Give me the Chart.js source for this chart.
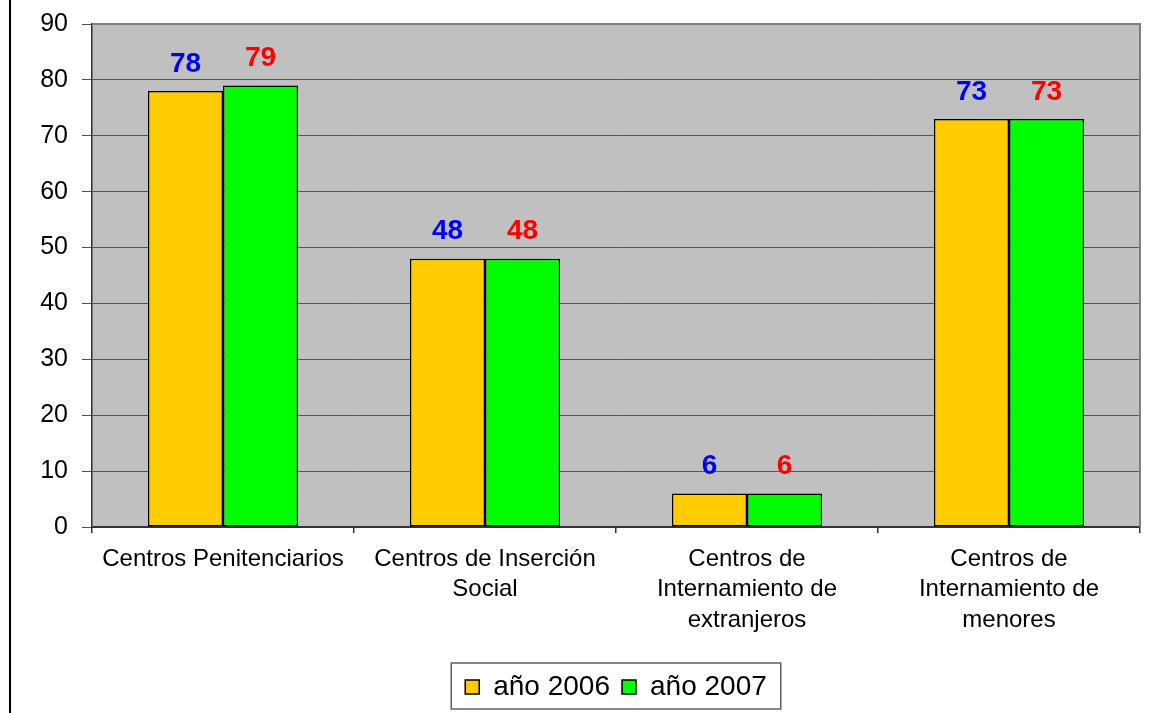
<!DOCTYPE html>
<html>
<head>
<meta charset="utf-8">
<title>Centros 2006 - 2007</title>
<script src="https://cdn.jsdelivr.net/npm/chart.js@4/dist/chart.umd.min.js"></script>
<style>
  html, body { margin: 0; padding: 0; background: #fff; }
  #wrap { position: relative; width: 1153px; height: 713px; }
  #edge { position: absolute; left: 9px; top: 0; width: 2px; height: 713px; background: #000; }
  #chart { position: absolute; left: 0; top: 0; }
</style>
</head>
<body>
<div id="wrap">
  <div id="edge"></div>
  <canvas id="chart" width="1153" height="713"></canvas>
</div>
<script>
//Data
var categories = [
  ['Centros Penitenciarios'],
  ['Centros de Inserción', 'Social'],
  ['Centros de', 'Internamiento de', 'extranjeros'],
  ['Centros de', 'Internamiento de', 'menores']
];
var seriesNames = ['año 2006', 'año 2007'];
var values2006 = [78, 48, 6, 73];
var values2007 = [79, 48, 6, 73];
var yTicks = [0, 10, 20, 30, 40, 50, 60, 70, 80, 90];

//Style stuff
var fontFamily = '"Liberation Sans", Arial, sans-serif';
var barColors = ['#FFCC00', '#00FF00'];
var labelColors = ['#0000FF', '#FF0000'];

//Gray plot area and its top/right border
var plotBackground = {
  id: 'plotBackground',
  beforeDraw: function(chart) {
    var ctx = chart.ctx;
    var a = chart.chartArea;
    ctx.save();
    ctx.fillStyle = '#C0C0C0';
    ctx.fillRect(a.left, a.top, a.right - a.left, a.bottom - a.top);
    ctx.restore();
  },
  afterDraw: function(chart) {
    var ctx = chart.ctx;
    var a = chart.chartArea;
    ctx.save();
    ctx.strokeStyle = '#808080';
    ctx.lineWidth = 2;
    ctx.beginPath();
    ctx.moveTo(a.left, a.top);
    ctx.lineTo(a.right, a.top);
    ctx.lineTo(a.right, a.bottom);
    ctx.stroke();
    ctx.restore();
  }
};

//Value labels above the bars
var valueLabels = {
  id: 'valueLabels',
  afterDatasetsDraw: function(chart) {
    var ctx = chart.ctx;
    ctx.save();
    ctx.font = 'bold 28px ' + fontFamily;
    ctx.textAlign = 'center';
    ctx.textBaseline = 'middle';
    chart.data.datasets.forEach(function(ds, di) {
      var meta = chart.getDatasetMeta(di);
      ctx.fillStyle = labelColors[di];
      meta.data.forEach(function(bar, i) {
        ctx.fillText(String(ds.data[i]), bar.x, bar.y - 27);
      });
    });
    ctx.restore();
  }
};

//Frame around the legend items
var legendFrame = {
  id: 'legendFrame',
  afterDraw: function(chart) {
    var boxes = chart.legend.legendHitBoxes;
    if (!boxes || !boxes.length) return;
    var first = boxes[0];
    var last = boxes[boxes.length - 1];
    var x1 = first.left - 14;
    var x2 = last.left + last.width + 14;
    var y1 = first.top - 10;
    var y2 = first.top + first.height + 8;
    var ctx = chart.ctx;
    ctx.save();
    ctx.strokeStyle = '#606060';
    ctx.lineWidth = 1.5;
    ctx.strokeRect(x1, y1, x2 - x1, y2 - y1);
    ctx.restore();
  }
};

var ctx = document.getElementById('chart').getContext('2d');
var chart = new Chart(ctx, {
  type: 'bar',
  data: {
    labels: categories,
    datasets: [
      {
        label: seriesNames[0],
        data: values2006,
        backgroundColor: barColors[0],
        borderColor: '#000',
        borderWidth: 1.5,
        borderSkipped: false
      },
      {
        label: seriesNames[1],
        data: values2007,
        backgroundColor: barColors[1],
        borderColor: '#000',
        borderWidth: 1.5,
        borderSkipped: false
      }
    ]
  },
  options: {
    responsive: false,
    animation: false,
    devicePixelRatio: 1,
    layout: { padding: { top: 24, right: 13, bottom: 2, left: 0 } },
    datasets: {
      bar: { categoryPercentage: 0.573, barPercentage: 1 }
    },
    scales: {
      x: {
        afterFit: function(scale) { scale.height = 134; },
        grid: { display: true, drawOnChartArea: false, offset: true, tickLength: 6, color: '#333', lineWidth: 1.5 },
        border: { color: '#333', width: 2 },
        ticks: {
          color: '#000',
          padding: 11,
          maxRotation: 0,
          autoSkip: false,
          font: { family: fontFamily, size: 24, lineHeight: 1.27 }
        }
      },
      y: {
        min: 0,
        max: 90,
        afterFit: function(scale) {
          scale.width = 92;
          scale.paddingTop = 0;
          scale.paddingBottom = 0;
        },
        afterBuildTicks: function(scale) {
          scale.ticks = yTicks.map(function(v) { return { value: v }; });
        },
        grid: { color: '#555', lineWidth: 1, tickLength: 10 },
        border: { color: '#333', width: 1.5 },
        ticks: {
          color: '#000',
          padding: 14,
          font: { family: fontFamily, size: 25 }
        }
      }
    },
    plugins: {
      legend: {
        position: 'bottom',
        fullSize: false,
        labels: {
          color: '#000',
          boxWidth: 14,
          boxHeight: 14,
          padding: 12,
          font: { family: fontFamily, size: 28 }
        }
      },
      tooltip: { enabled: false }
    }
  },
  plugins: [plotBackground, valueLabels, legendFrame]
});
</script>
</body>
</html>
